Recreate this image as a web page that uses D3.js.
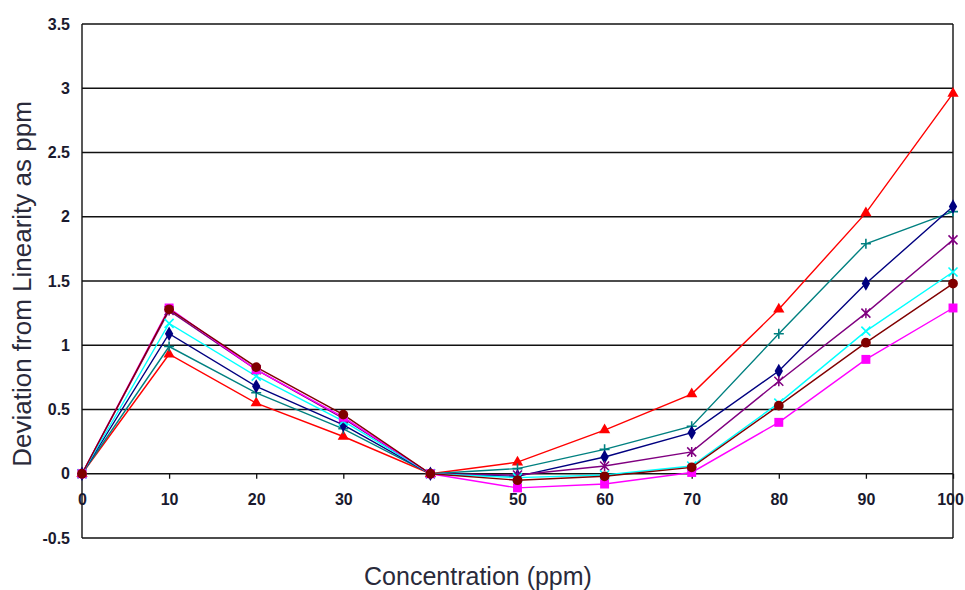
<!DOCTYPE html>
<html>
<head>
<meta charset="utf-8">
<script src="https://cdn.jsdelivr.net/npm/d3@7"></script>
<style>
  body { margin: 0; background: #fff; }
  svg { display: block; }
</style>
</head>
<body>
<div id="chart"></div>
<script>
// concentrations (ppm)
const concentrations = [0, 10, 20, 30, 40, 50, 60, 70, 80, 90, 100];

// deviation from linearity, one array per series
const redTriangle   = [0, 0.93, 0.55, 0.29, 0, 0.09, 0.34, 0.62, 1.28, 2.03, 2.96];
const tealPlus      = [0, 0.99, 0.63, 0.35, 0, 0.04, 0.19, 0.37, 1.09, 1.79, 2.04];
const navyDiamond   = [0, 1.09, 0.68, 0.38, 0, -0.02, 0.13, 0.32, 0.80, 1.48, 2.08];
const purpleStar    = [0, 1.27, 0.81, 0.43, 0, -0.01, 0.06, 0.17, 0.72, 1.25, 1.82];
const cyanCross     = [0, 1.17, 0.76, 0.41, 0, -0.03, -0.01, 0.06, 0.55, 1.11, 1.57];
const magentaSquare = [0, 1.29, 0.81, 0.44, 0, -0.11, -0.08, 0.01, 0.40, 0.89, 1.29];
const darkRedCircle = [0, 1.28, 0.83, 0.46, 0, -0.05, -0.02, 0.05, 0.53, 1.02, 1.48];

const yTicks = [-0.5, 0, 0.5, 1, 1.5, 2, 2.5, 3, 3.5];
const yTickLabels = ["-0.5", "0", "0.5", "1", "1.5", "2", "2.5", "3", "3.5"];

const series = [
  { values: redTriangle,   color: "#ff0000", marker: "triangle" },
  { values: tealPlus,      color: "#008080", marker: "plus" },
  { values: navyDiamond,   color: "#000080", marker: "diamond" },
  { values: purpleStar,    color: "#800080", marker: "star" },
  { values: cyanCross,     color: "#00ffff", marker: "cross" },
  { values: magentaSquare, color: "#ff00ff", marker: "square" },
  { values: darkRedCircle, color: "#800000", marker: "circle" }
];

const width = 965, height = 590;
const margin = { left: 82, right: 12, top: 24, bottom: 52 };

const svg = d3.select("#chart").append("svg")
  .attr("width", width)
  .attr("height", height);

const x = d3.scaleLinear().domain([0, 100]).range([margin.left, width - margin.right]);
const y = d3.scaleLinear().domain([-0.5, 3.5]).range([height - margin.bottom, margin.top]);

// horizontal grid lines
svg.append("g")
  .selectAll("line")
  .data(yTicks)
  .join("line")
  .attr("x1", x(0)).attr("x2", x(100))
  .attr("y1", d => y(d)).attr("y2", d => y(d))
  .attr("stroke", "#111")
  .attr("stroke-width", 1.4);

// frame: left and right borders
svg.append("line")
  .attr("x1", x(0)).attr("x2", x(0))
  .attr("y1", y(3.5)).attr("y2", y(-0.5))
  .attr("stroke", "#111").attr("stroke-width", 1.4);
svg.append("line")
  .attr("x1", x(100)).attr("x2", x(100))
  .attr("y1", y(3.5)).attr("y2", y(-0.5))
  .attr("stroke", "#111").attr("stroke-width", 1.4);

const tickFont = "'Liberation Sans Narrow', 'Arial Narrow', sans-serif";

// y axis labels
const yAxis = d3.axisLeft(y).tickValues(yTicks)
  .tickFormat((d, i) => yTickLabels[i])
  .tickSize(0).tickPadding(12);
svg.append("g")
  .attr("transform", `translate(${x(0)},0)`)
  .call(yAxis)
  .call(g => g.select(".domain").remove())
  .selectAll("text")
  .attr("font-family", tickFont)
  .attr("font-weight", "bold")
  .attr("font-size", 16)
  .attr("fill", "#1a1a2e");

// x axis at y = 0
const xAxis = d3.axisBottom(x).tickValues(concentrations)
  .tickFormat(d3.format("d"))
  .tickSize(5).tickPadding(15);
svg.append("g")
  .attr("transform", `translate(0,${y(0)})`)
  .call(xAxis)
  .call(g => g.select(".domain").remove())
  .call(g => g.selectAll("line").attr("stroke", "#111").attr("stroke-width", 1.3))
  .selectAll("text")
  .attr("font-family", tickFont)
  .attr("font-weight", "bold")
  .attr("font-size", 16)
  .attr("fill", "#1a1a2e")
  .attr("dx", d => d === 100 ? -3 : 0); // keep "100" inside the window

// lines
const line = d3.line()
  .x((d, i) => x(concentrations[i]))
  .y(d => y(d));

const plot = svg.append("g");

series.forEach(s => {
  plot.append("path")
    .datum(s.values)
    .attr("d", line)
    .attr("fill", "none")
    .attr("stroke", s.color)
    .attr("stroke-width", 1.4);
});

// markers
const symbolType = {
  triangle: d3.symbolTriangle,
  plus: d3.symbolCross,
  diamond: d3.symbolDiamond,
  circle: d3.symbolCircle,
  square: d3.symbolSquare
};

series.forEach(s => {
  const g = plot.append("g");
  const pts = g.selectAll("g")
    .data(s.values)
    .join("g")
    .attr("transform", (d, i) => `translate(${x(concentrations[i])},${y(d)})`);

  if (s.marker === "plus") {
    pts.append("path")
      .attr("d", "M-5,0H5M0,-5V5")
      .attr("stroke", s.color).attr("stroke-width", 1.6);
  } else if (s.marker === "cross") {
    pts.append("path")
      .attr("d", "M-4.5,-4.5L4.5,4.5M-4.5,4.5L4.5,-4.5")
      .attr("stroke", s.color).attr("stroke-width", 1.6);
  } else if (s.marker === "star") {
    pts.append("path")
      .attr("d", "M-4.5,-4.5L4.5,4.5M-4.5,4.5L4.5,-4.5M0,-5V5")
      .attr("stroke", s.color).attr("stroke-width", 1.5);
  } else {
    const size = { triangle: 55, diamond: 60, circle: 75, square: 80 }[s.marker];
    pts.append("path")
      .attr("d", d3.symbol().type(symbolType[s.marker]).size(size))
      .attr("fill", s.color);
  }
});

// axis titles
svg.append("text")
  .attr("x", 478)
  .attr("y", 585)
  .attr("text-anchor", "middle")
  .attr("font-family", "'Liberation Sans', Arial, sans-serif")
  .attr("font-size", 25)
  .attr("fill", "#2a2a3a")
  .text("Concentration (ppm)");

svg.append("text")
  .attr("transform", `translate(31,284) rotate(-90)`)
  .attr("text-anchor", "middle")
  .attr("font-family", "'Liberation Sans', Arial, sans-serif")
  .attr("font-size", 26)
  .attr("fill", "#2a2a3a")
  .text("Deviation from Linearity as ppm");
</script>
</body>
</html>
